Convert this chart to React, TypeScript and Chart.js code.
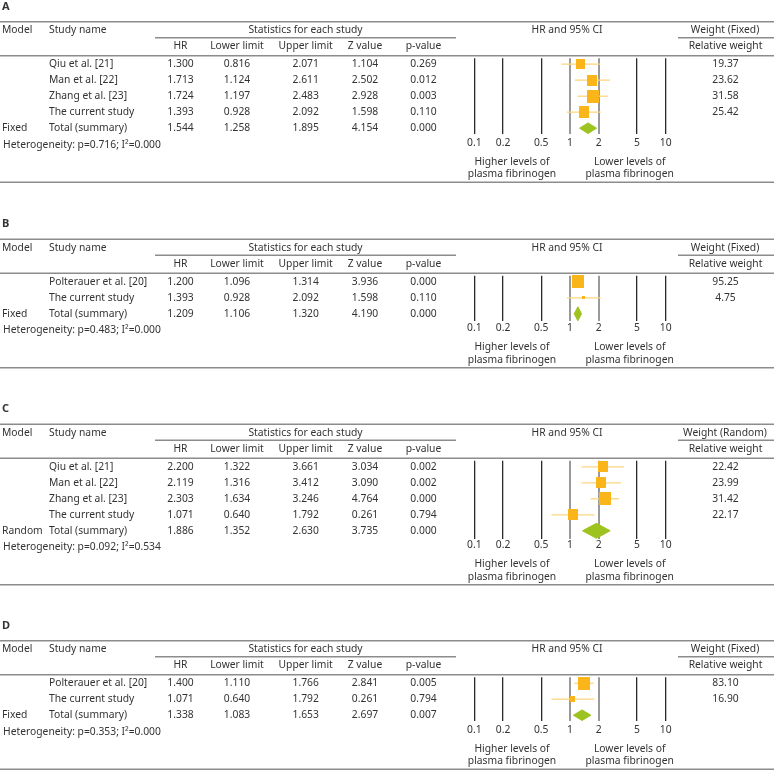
import React, { useEffect, useRef } from 'react';
import { Chart, registerables } from 'chart.js';

Chart.register(...registerables);

// ---------- data ----------
const AXIS_TICKS = [0.1, 0.2, 0.5, 1, 2, 5, 10];
const STAT_HEADERS = ['HR', 'Lower limit', 'Upper limit', 'Z value', 'p-value'];

// Panel A
const A_STUDIES = ['Qiu et al. [21]', 'Man et al. [22]', 'Zhang et al. [23]', 'The current study'];
const A_HR = [1.3, 1.713, 1.724, 1.393];
const A_LOWER = [0.816, 1.124, 1.197, 0.928];
const A_UPPER = [2.071, 2.611, 2.483, 2.092];
const A_Z = [1.104, 2.502, 2.928, 1.598];
const A_P = [0.269, 0.012, 0.003, 0.11];
const A_WEIGHT = [19.37, 23.62, 31.58, 25.42];
const A_TOTAL = [1.544, 1.258, 1.895, 4.154, 0.0];
const A_HETEROGENEITY = [0.716, 0.0];

// Panel B
const B_STUDIES = ['Polterauer et al. [20]', 'The current study'];
const B_HR = [1.2, 1.393];
const B_LOWER = [1.096, 0.928];
const B_UPPER = [1.314, 2.092];
const B_Z = [3.936, 1.598];
const B_P = [0.0, 0.11];
const B_WEIGHT = [95.25, 4.75];
const B_TOTAL = [1.209, 1.106, 1.32, 4.19, 0.0];
const B_HETEROGENEITY = [0.483, 0.0];

// Panel C
const C_STUDIES = ['Qiu et al. [21]', 'Man et al. [22]', 'Zhang et al. [23]', 'The current study'];
const C_HR = [2.2, 2.119, 2.303, 1.071];
const C_LOWER = [1.322, 1.316, 1.634, 0.64];
const C_UPPER = [3.661, 3.412, 3.246, 1.792];
const C_Z = [3.034, 3.09, 4.764, 0.261];
const C_P = [0.002, 0.002, 0.0, 0.794];
const C_WEIGHT = [22.42, 23.99, 31.42, 22.17];
const C_TOTAL = [1.886, 1.352, 2.63, 3.735, 0.0];
const C_HETEROGENEITY = [0.092, 0.534];

// Panel D
const D_STUDIES = ['Polterauer et al. [20]', 'The current study'];
const D_HR = [1.4, 1.071];
const D_LOWER = [1.11, 0.64];
const D_UPPER = [1.766, 1.792];
const D_Z = [2.841, 0.261];
const D_P = [0.005, 0.794];
const D_WEIGHT = [83.1, 16.9];
const D_TOTAL = [1.338, 1.083, 1.653, 2.697, 0.007];
const D_HETEROGENEITY = [0.353, 0.0];

// ---------- styles / layout ----------
const W = 774;
const FONT = '"Noto Sans", "DejaVu Sans", sans-serif';
const FS = 10.3;
const TEXT = '#333333';
const RULE = '#8c8c8c';
const SQUARE = '#f9b51a';
const CI = '#fcd57c';
const DIAMOND = '#9dc320';
const STAT_X = [180.5, 237, 305.7, 365, 423.5];
const PLOT_LEFT = 474.3;
const PLOT_RIGHT = 665.7;
const AXIS_H = 22;

const PANELS = [
  { letter: 'A', model: 'Fixed', weightTitle: 'Weight (Fixed)', studies: A_STUDIES, hr: A_HR, lower: A_LOWER, upper: A_UPPER, z: A_Z, p: A_P, weight: A_WEIGHT, total: A_TOTAL, het: A_HETEROGENEITY, top: 0, height: 190, T: 21.7, dh: 5.3 },
  { letter: 'B', model: 'Fixed', weightTitle: 'Weight (Fixed)', studies: B_STUDIES, hr: B_HR, lower: B_LOWER, upper: B_UPPER, z: B_Z, p: B_P, weight: B_WEIGHT, total: B_TOTAL, het: B_HETEROGENEITY, top: 217, height: 160, T: 22.3, dh: 7 },
  { letter: 'C', model: 'Random', weightTitle: 'Weight (Random)', studies: C_STUDIES, hr: C_HR, lower: C_LOWER, upper: C_UPPER, z: C_Z, p: C_P, weight: C_WEIGHT, total: C_TOTAL, het: C_HETEROGENEITY, top: 402, height: 190, T: 22.3, dh: 7.5 },
  { letter: 'D', model: 'Fixed', weightTitle: 'Weight (Fixed)', studies: D_STUDIES, hr: D_HR, lower: D_LOWER, upper: D_UPPER, z: D_Z, p: D_P, weight: D_WEIGHT, total: D_TOTAL, het: D_HETEROGENEITY, top: 619, height: 152, T: 21.7, dh: 5.3 },
];

function makeRect(w: number, h: number, color: string) {
  const c = document.createElement('canvas');
  c.width = w;
  c.height = h;
  const g = c.getContext('2d')!;
  g.fillStyle = color;
  g.fillRect(0, 0, w, h);
  return c;
}

function PanelChart({ panel }: { panel: any }) {
  const ref = useRef<HTMLCanvasElement>(null);
  useEffect(() => {
    const p = panel;
    const N = p.studies.length;
    const rowY = (i: number) => p.T + 42.5 + 16 * i;
    const areaTop = rowY(0) - 6;
    const areaBottom = rowY(N) + p.dh + 0.5;
    const yMin = -6 / 16;
    const yMax = N + (p.dh + 0.5) / 16;
    const tickPad = Math.max(0, 14.5 - (p.dh + 0.5) - FS * 0.6);
    const maxW = Math.max(...p.weight);
    const squares = p.weight.map((w: number) => {
      const r = Math.sqrt(w / maxW);
      return makeRect(Math.max(2, Math.round(11.5 * r)), Math.max(2, Math.round(13 * r)), SQUARE);
    });
    const dhu = p.dh / 16;
    const [tHr, tLo, tUp] = p.total;

    const datasets: any[] = [
      ...p.studies.map((_: string, i: number) => ({
        type: 'line',
        data: [{ x: p.lower[i], y: i }, { x: p.upper[i], y: i }],
        borderColor: CI,
        borderWidth: 1.3,
        pointRadius: 0,
        fill: false,
        clip: false,
        order: 2,
      })),
      {
        type: 'line',
        data: p.hr.map((x: number, i: number) => ({ x, y: i })),
        showLine: false,
        pointStyle: squares,
        pointRadius: 5,
        clip: false,
        order: 1,
      },
      {
        type: 'line',
        data: [
          { x: tLo, y: N },
          { x: tHr, y: N - dhu },
          { x: tUp, y: N },
          { x: tHr, y: N + dhu },
          { x: tLo, y: N },
        ],
        borderColor: DIAMOND,
        backgroundColor: DIAMOND,
        borderWidth: 1,
        fill: 'shape',
        pointRadius: 0,
        tension: 0,
        clip: false,
        order: 0,
      },
    ];

    const textPlugin = {
      id: 'tableText',
      afterDraw(chart: any) {
        const ctx = chart.ctx;
        ctx.save();
        // rules
        ctx.strokeStyle = RULE;
        ctx.lineWidth = 1.6;
        const hline = (x1: number, x2: number, y: number) => {
          ctx.beginPath();
          ctx.moveTo(x1, y);
          ctx.lineTo(x2, y);
          ctx.stroke();
        };
        hline(0, W, p.T);
        hline(155, 456, p.T + 16);
        hline(678, W, p.T + 16);
        hline(0, W, p.T + 34);
        hline(0, W, rowY(N) + 54);

        ctx.fillStyle = TEXT;
        ctx.textBaseline = 'middle';
        const txt = (s: string, x: number, y: number, align: CanvasTextAlign = 'left') => {
          ctx.textAlign = align;
          ctx.fillText(s, x, y);
        };
        ctx.font = `bold 11px ${FONT}`;
        txt(p.letter, 2, p.T - 15);
        ctx.font = `${FS}px ${FONT}`;
        const hy = p.T + 8.5;
        txt('Model', 2, hy);
        txt('Study name', 49, hy);
        txt('Statistics for each study', 305.5, hy, 'center');
        txt('HR and 95% CI', 567, hy, 'center');
        txt(p.weightTitle, 725, hy, 'center');
        const sy = p.T + 24.5;
        STAT_HEADERS.forEach((h, k) => txt(h, STAT_X[k], sy, 'center'));
        txt('Relative weight', 725.5, sy, 'center');
        for (let i = 0; i < N; i++) {
          const y = rowY(i);
          txt(p.studies[i], 49, y);
          const vals = [p.hr[i], p.lower[i], p.upper[i], p.z[i], p.p[i]];
          vals.forEach((v: number, k: number) => txt(v.toFixed(3), STAT_X[k], y, 'center'));
          txt(p.weight[i].toFixed(2), 725.5, y, 'center');
        }
        const ty = rowY(N);
        txt(p.model, 2, ty);
        txt('Total (summary)', 49, ty);
        p.total.forEach((v: number, k: number) => txt(v.toFixed(3), STAT_X[k], ty, 'center'));
        txt(`Heterogeneity: p=${p.het[0].toFixed(3)}; I\u00B2=${p.het[1].toFixed(3)}`, 3, ty + 16.5);
        txt('Higher levels of', 512, ty + 33.5, 'center');
        txt('plasma fibrinogen', 512, ty + 46, 'center');
        txt('Lower levels of', 629.7, ty + 33.5, 'center');
        txt('plasma fibrinogen', 629.7, ty + 46, 'center');
        ctx.restore();
      },
    };

    const chart = new Chart(ref.current!, {
      type: 'line',
      data: { datasets },
      options: {
        responsive: false,
        animation: false,
        devicePixelRatio: 1,
        events: [],
        layout: {
          padding: {
            left: PLOT_LEFT,
            right: W - PLOT_RIGHT,
            top: areaTop,
            bottom: p.height - areaBottom - AXIS_H,
          },
        },
        plugins: {
          legend: { display: false },
          tooltip: { enabled: false },
          title: { display: false },
        },
        scales: {
          x: {
            type: 'logarithmic',
            position: 'bottom',
            min: 0.1,
            max: 10,
            afterBuildTicks: (axis: any) => {
              axis.ticks = AXIS_TICKS.map((value) => ({ value }));
            },
            afterFit: (axis: any) => {
              axis.height = AXIS_H;
            },
            ticks: {
              autoSkip: false,
              maxRotation: 0,
              minRotation: 0,
              padding: tickPad,
              color: TEXT,
              font: { family: FONT, size: FS },
              callback: (v: any) => String(v),
            },
            grid: {
              drawTicks: false,
              color: (c: any) => (c.tick && (c.tick.value === 1 || c.tick.value === 2) ? '#9a9a9a' : '#2a2a2a'),
              lineWidth: (c: any) => (c.tick && (c.tick.value === 1 || c.tick.value === 2) ? 2 : 1.3),
            },
            border: { display: false },
          },
          y: {
            type: 'linear',
            display: false,
            reverse: true,
            min: yMin,
            max: yMax,
          },
        },
      } as any,
      plugins: [textPlugin],
    } as any);
    return () => chart.destroy();
  }, [panel]);
  return (
    <div style={{ position: 'absolute', left: 0, top: panel.top, width: W, height: panel.height }}>
      <canvas ref={ref} width={W} height={panel.height} style={{ display: 'block' }} />
    </div>
  );
}

export default function App() {
  return (
    <div style={{ position: 'fixed', left: 0, top: 0, width: W, height: 771, background: '#ffffff', overflow: 'hidden' }}>
      {PANELS.map((p) => (
        <PanelChart key={p.letter} panel={p} />
      ))}
    </div>
  );
}
